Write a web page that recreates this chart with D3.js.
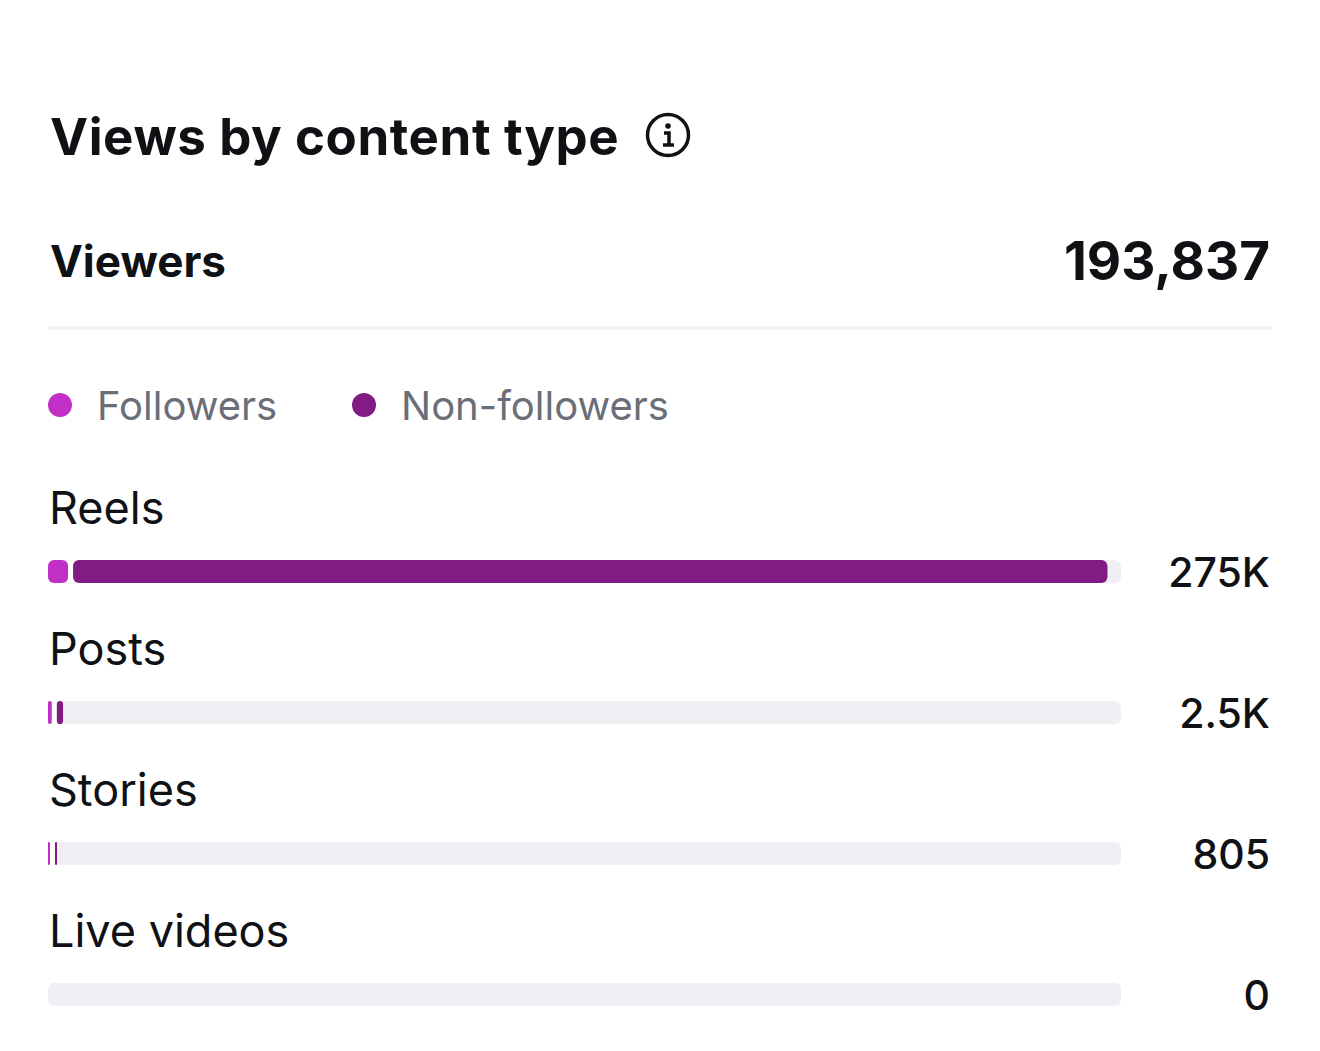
<!DOCTYPE html>
<html><head><meta charset="utf-8">
<script src="https://cdn.jsdelivr.net/npm/d3@7"></script>
<style>body{margin:0;background:#fff}svg{display:block;font-family:Inter,"Noto Sans",sans-serif}</style>
</head><body><svg width="1320" height="1051"></svg>
<script>
// chart data
const categories = ['Reels', 'Posts', 'Stories', 'Live videos'];
const followers = [5.2, 1.0, 0.5, 0];        // thousands
const nonFollowers = [268, 1.6, 0.3, 0];     // thousands
const totalLabels = ['275K', '2.5K', '805', '0'];
const legendItems = ['Followers', 'Non-followers'];
const colors = ['#c22fc6', '#821b83'];

const svg = d3.select('svg');
const left = 48, trackRight = 1121, right = 1270;

// header
svg.append('text').attr('x', 50).attr('y', 155).attr('font-size', 51).attr('font-weight', 700)
    .attr('letter-spacing', 0.6).attr('fill', '#0f1115').text('Views by content type');
const info = svg.append('g').attr('transform', 'translate(668,135)');
info.append('circle').attr('r', 20.5).attr('fill', 'none').attr('stroke', '#0f1115').attr('stroke-width', 3.5);
info.append('circle').attr('cy', -9).attr('r', 2.8).attr('fill', '#0f1115');
info.append('path').attr('d', 'M-4,-2H1V9M-5,10H6').attr('fill', 'none').attr('stroke', '#0f1115').attr('stroke-width', 3.5);

svg.append('text').attr('x', 50).attr('y', 277).attr('font-size', 44).attr('font-weight', 700)
    .attr('fill', '#0f1115').text('Viewers');
svg.append('text').attr('x', right).attr('y', 280).attr('text-anchor', 'end').attr('font-size', 53)
    .attr('font-weight', 700).attr('fill', '#0f1115').text('193,837');
svg.append('line').attr('x1', 48).attr('x2', 1272).attr('y1', 328).attr('y2', 328)
    .attr('stroke', '#eeeff2').attr('stroke-width', 3);

// legend
const legend = svg.selectAll('g.leg').data(legendItems).enter().append('g')
    .attr('transform', (d, i) => `translate(${[60, 364][i]},405)`);
legend.append('circle').attr('r', 12).attr('fill', (d, i) => colors[i]);
legend.append('text').attr('x', 37).attr('y', 15).attr('font-size', 40).attr('fill', '#6a6e78').text(d => d);

// bars
const x = d3.scaleLinear().domain([0, 278]).range([0, trackRight - left]);
const y = d3.scaleBand().domain(categories).range([465, 1029]);
const gap = 5, h = 23;

const rows = svg.selectAll('g.row').data(categories).enter().append('g')
    .attr('transform', d => `translate(0,${y(d)})`);
rows.append('text').attr('x', 49).attr('y', 59).attr('font-size', 45).attr('fill', '#0f1115').text(d => d);
rows.append('rect').attr('x', left).attr('y', 95).attr('width', trackRight - left).attr('height', h)
    .attr('rx', 6).attr('fill', '#f0f0f4');
rows.each(function (d, i) {
    const g = d3.select(this);
    let pos = left;
    [followers[i], nonFollowers[i]].forEach((v, k) => {
        if (v <= 0) return;
        const w = Math.max(2, x(v));
        g.append('rect').attr('x', pos).attr('y', 95).attr('width', w).attr('height', h)
            .attr('rx', Math.min(6, w / 2)).attr('fill', colors[k]);
        pos += w + (k === 0 ? gap : 0);
        if (k === 0) g.append('rect').attr('x', pos - gap).attr('y', 95).attr('width', gap).attr('height', h).attr('fill', '#fff');
    });
    g.append('text').attr('x', right).attr('y', 122).attr('text-anchor', 'end').attr('font-size', 41)
        .attr('font-weight', 500).attr('fill', '#0f1115').text(totalLabels[i]);
});
</script></body></html>
